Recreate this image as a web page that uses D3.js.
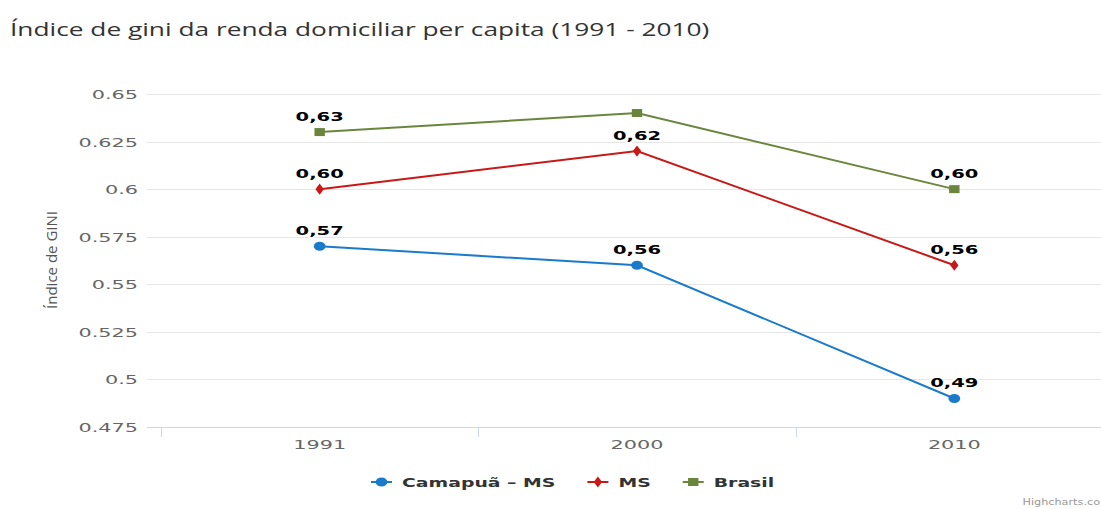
<!DOCTYPE html>
<html>
<head>
<meta charset="utf-8">
<script src="https://cdn.jsdelivr.net/npm/d3@7"></script>
<style>
  body { margin: 0; background: #fff; }
  svg { display: block; }
</style>
</head>
<body>
<div id="chart"></div>
<script>
// data
var years = ["1991", "2000", "2010"];
var seriesNames = ["Camapuã – MS", "MS", "Brasil"];
var camapua = [0.57, 0.56, 0.49];
var ms = [0.60, 0.62, 0.56];
var brasil = [0.63, 0.64, 0.60];
var showLabels = [[true, true, true], [true, true, true], [true, false, true]];
var yTicks = [0.475, 0.5, 0.525, 0.55, 0.575, 0.6, 0.625, 0.65];

var seriesColors = ["#1a7bcb", "#c81818", "#6a863c"];
var seriesSymbols = [d3.symbolCircle, d3.symbolDiamond, d3.symbolSquare];
var series = [camapua, ms, brasil];

var width = 1101, height = 509;
var plot = {left: 147, right: 1101, top: 94, bottom: 427};

var svg = d3.select("#chart")
  .append("svg")
    .attr("width", width)
    .attr("height", height);

// the picture is stretched sideways, so text is widened with a scale
function stretched(sel, sx) {
  sel.each(function() {
    var t = d3.select(this);
    var x = +t.attr("x"), y = +t.attr("y");
    t.attr("x", 0).attr("y", 0)
     .attr("transform", "translate(" + x + "," + y + ") scale(" + sx + ",1)");
  });
  return sel;
}

// title
svg.append("text")
  .attr("x", 10).attr("y", 36)
  .style("font-family", "Open Sans")
  .style("font-size", "18px")
  .style("fill", "#333")
  .text("Índice de gini da renda domiciliar per capita (1991 - 2010)")
  .call(stretched, 1.46);

// scales
var x = d3.scaleBand()
  .domain(years)
  .range([161, 1113]);

var y = d3.scaleLinear()
  .domain([0.475, 0.65])
  .range([plot.bottom, plot.top]);

// grid
svg.append("g")
  .selectAll("line")
  .data(yTicks.slice(1))
  .enter()
  .append("line")
    .attr("x1", plot.left).attr("x2", plot.right)
    .attr("y1", function(d) { return Math.round(y(d)) + 0.5; })
    .attr("y2", function(d) { return Math.round(y(d)) + 0.5; })
    .style("stroke", "#e6e6e6")
    .style("stroke-width", 1);

// y axis labels
svg.append("g")
  .selectAll("text")
  .data(yTicks)
  .enter()
  .append("text")
    .attr("x", 138)
    .attr("y", function(d) { return y(d) + 5; })
    .attr("text-anchor", "end")
    .style("font-family", "DejaVu Sans")
    .style("font-size", "13px")
    .style("fill", "#666")
    .text(function(d) { return d3.format("")(d); })
    .call(stretched, 1.6);

// y axis title
svg.append("text")
  .attr("transform", "translate(57,260) rotate(-90)")
  .attr("text-anchor", "middle")
  .style("font-family", "Open Sans")
  .style("font-size", "15px")
  .style("fill", "#555")
  .text("Índice de GINI");

// x axis
var xAxis = svg.append("g")
  .attr("transform", "translate(0," + plot.bottom + ")");
xAxis.append("line")
  .attr("x1", plot.left).attr("x2", plot.right)
  .attr("y1", 0.5).attr("y2", 0.5)
  .style("stroke", "#ccd6eb");
xAxis.selectAll(".tick")
  .data(years)
  .enter()
  .append("line")
    .attr("x1", function(d) { return Math.round(x(d)) + 0.5; })
    .attr("x2", function(d) { return Math.round(x(d)) + 0.5; })
    .attr("y1", 0).attr("y2", 10)
    .style("stroke", "#ccd6eb");
xAxis.selectAll("text")
  .data(years)
  .enter()
  .append("text")
    .attr("x", function(d) { return x(d) + x.bandwidth() / 2; })
    .attr("y", 22)
    .attr("text-anchor", "middle")
    .style("font-family", "DejaVu Sans")
    .style("font-size", "13px")
    .style("fill", "#666")
    .text(function(d) { return d; })
    .call(stretched, 1.6);

var cx = function(i) { return x(years[i]) + x.bandwidth() / 2; };

var line = d3.line()
  .x(function(d, i) { return cx(i); })
  .y(function(d) { return y(d); });

series.forEach(function(values, s) {
  var g = svg.append("g");
  var points = values.map(function(v, i) { return {v: v, i: i, show: showLabels[s][i]}; });

  g.append("path")
    .datum(values)
    .attr("d", line)
    .style("fill", "none")
    .style("stroke", seriesColors[s])
    .style("stroke-width", 2);

  var sym = d3.symbol().type(seriesSymbols[s]).size(s === 1 ? 36 : 64);
  g.selectAll(".marker")
    .data(points)
    .enter()
    .append("path")
      .attr("d", sym)
      .attr("transform", function(d) {
        return "translate(" + cx(d.i) + "," + y(d.v) + ") scale(1.3,1)";
      })
      .style("fill", seriesColors[s]);

  g.selectAll(".label")
    .data(points.filter(function(d) { return d.show; }))
    .enter()
    .append("text")
      .attr("x", function(d) { return cx(d.i); })
      .attr("y", function(d) { return y(d.v) - 11; })
      .attr("text-anchor", "middle")
      .style("font-family", "DejaVu Sans")
      .style("font-size", "13px")
      .style("font-weight", "bold")
      .style("fill", "#000")
      .style("stroke", "#fff")
      .style("stroke-width", 3)
      .style("paint-order", "stroke")
      .style("stroke-linejoin", "round")
      .text(function(d) { return d3.format(".2f")(d.v).replace(".", ","); })
      .call(stretched, 1.5);
});

// legend
var legend = svg.append("g");
var lx = 371;
seriesNames.forEach(function(name, s) {
  var item = legend.append("g");
  item.append("line")
    .attr("x1", lx).attr("x2", lx + 21)
    .attr("y1", 482).attr("y2", 482)
    .style("stroke", seriesColors[s])
    .style("stroke-width", 2);
  item.append("path")
    .attr("d", d3.symbol().type(seriesSymbols[s]).size(s === 1 ? 36 : 64))
    .attr("transform", "translate(" + (lx + 10.5) + ",482) scale(1.3,1)")
    .style("fill", seriesColors[s]);
  var t = item.append("text")
    .attr("x", lx + 31).attr("y", 487)
    .style("font-family", "DejaVu Sans")
    .style("font-size", "13px")
    .style("font-weight", "bold")
    .style("fill", "#333")
    .text(name)
    .call(stretched, 1.45);
  lx = lx + 31 + t.node().getComputedTextLength() * 1.45 + 32;
});

// credits (cut off at the right edge in the original)
svg.append("text")
  .attr("x", 1100).attr("y", 505)
  .attr("text-anchor", "end")
  .style("font-family", "DejaVu Sans")
  .style("font-size", "9px")
  .style("fill", "#999")
  .text("Highcharts.co")
  .call(stretched, 1.25);
</script>
</body>
</html>
